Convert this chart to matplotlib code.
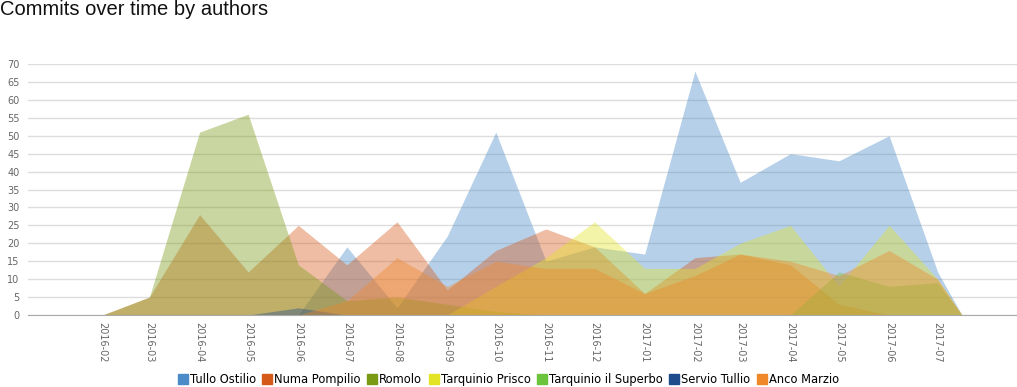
import matplotlib
matplotlib.use("Agg")
from matplotlib import pyplot as plt
import matplotlib.dates as mdates
from matplotlib.lines import Line2D
import numpy as np
import pandas as pd

# month start dates, plus the date of the last commit where every series drops to zero
dates = pd.to_datetime([
    "2016-02-01", "2016-03-01", "2016-04-01", "2016-05-01", "2016-06-01", "2016-07-01",
    "2016-08-01", "2016-09-01", "2016-10-01", "2016-11-01", "2016-12-01", "2017-01-01",
    "2017-02-01", "2017-03-01", "2017-04-01", "2017-05-01", "2017-06-01", "2017-07-01",
    "2017-07-16",
])

authors = ["Tullo Ostilio", "Numa Pompilio", "Romolo", "Tarquinio Prisco",
           "Tarquinio il Superbo", "Servio Tullio", "Anco Marzio"]
colors = ["#4b8bc8", "#d55a1a", "#7b9a14", "#e4e426", "#6cc33c", "#1e4b8c", "#f0882a"]

tullo = [0, 0, 0, 0, 0, 19, 2, 22, 51, 15, 19, 17, 68, 37, 45, 43, 50, 12, 0]
numa = [0, 5, 28, 12, 25, 14, 26, 7, 18, 24, 19, 6, 16, 17, 14, 3, 0, 0, 0]
romolo = [0, 5, 51, 56, 14, 4, 5, 3, 1, 0, 0, 0, 0, 0, 0, 0, 0, 0, 0]
prisco = [0, 0, 0, 0, 0, 0, 0, 0, 8, 16, 26, 13, 13, 20, 25, 8, 25, 10, 0]
superbo = [0, 0, 0, 0, 0, 0, 0, 0, 0, 0, 0, 0, 0, 0, 0, 12, 8, 9, 0]
servio = [0, 0, 0, 0, 2, 0, 0, 0, 0, 0, 0, 0, 0, 0, 0, 0, 0, 0, 0]
anco = [0, 0, 0, 0, 0, 4, 16, 8, 15, 13, 13, 6, 11, 17, 15, 11, 18, 10, 0]

series = [tullo, numa, romolo, prisco, superbo, servio, anco]

# tick months (last commit point is not labelled)
tick_months = dates[:-1]

fig = plt.figure(figsize=(10.17, 3.87), dpi=100)
ax = fig.add_axes([28 / 1017, (387 - 315) / 387, 989 / 1017, (315 - 64) / 387])

for vals, c in zip(series, colors):
    ax.fill_between(dates, 0, vals, color=c, alpha=0.4, linewidth=0, zorder=2)

ax.set_ylim(0, 70)
ax.set_yticks(np.arange(0, 71, 5))
ax.set_xlim(pd.Timestamp("2015-12-17"), pd.Timestamp("2017-08-19"))
ax.set_xticks(tick_months)
ax.xaxis.set_major_formatter(mdates.DateFormatter("%Y-%m"))

ax.grid(axis="y", color="#dddddd", linewidth=1, zorder=0)
ax.set_axisbelow(True)
for s in ["top", "right", "left"]:
    ax.spines[s].set_visible(False)
ax.spines["bottom"].set_color("#aaaaaa")
ax.spines["bottom"].set_zorder(3)

ax.tick_params(axis="y", length=0, pad=6, labelsize=7, labelcolor="#666666")
ax.tick_params(axis="x", length=0, pad=5, labelsize=7, labelcolor="#666666",
               labelrotation=-90)
for lab in ax.get_xticklabels():
    lab.set_verticalalignment("top")
    lab.set_horizontalalignment("center")

fig.text(0.0, 1.0, "Commits over time by authors", ha="left", va="top",
         fontsize=14.5, family="Liberation Sans", color="#111111")

handles = [Line2D([], [], marker="s", linestyle="none", markersize=6.5,
                  markerfacecolor=c, markeredgecolor=c) for c in colors]
fig.legend(handles, authors, loc="lower center", bbox_to_anchor=(0.5, -0.025),
           ncol=7, frameon=False, fontsize=8.3, handlelength=0.8,
           handletextpad=0.2, columnspacing=0.6)

plt.savefig("out.png", dpi=100)
plt.close()
